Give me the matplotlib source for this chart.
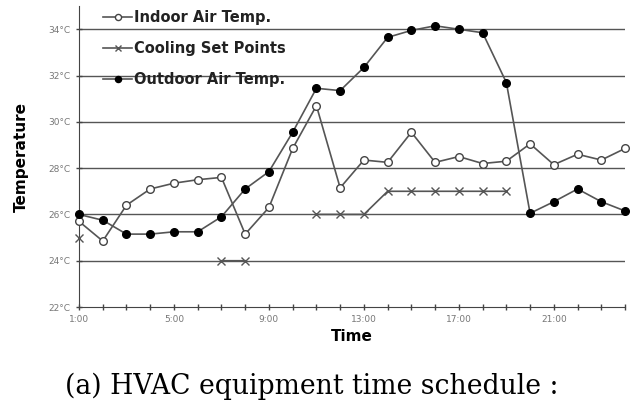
import numpy as np
import matplotlib.pyplot as plt

hours = np.arange(1, 25)

indoor = [25.7, 24.85, 26.4, 27.1, 27.35, 27.5, 27.6, 25.15, 26.3, 28.85, 30.7, 27.15,
          28.35, 28.25, 29.55, 28.25, 28.5, 28.2, 28.3, 29.05, 28.15, 28.6, 28.35, 28.85]
outdoor = [26.0, 25.75, 25.15, 25.15, 25.25, 25.25, 25.9, 27.1, 27.85, 29.55, 31.45, 31.35,
           32.35, 33.65, 33.95, 34.15, 34.0, 33.85, 31.7, 26.05, 26.55, 27.1, 26.55, 26.15]
nan = np.nan
setpoint = [25, nan, nan, nan, nan, nan, 24, 24, nan, nan, 26, 26,
            26, 27, 27, 27, 27, 27, 27, nan, nan, nan, nan, nan]

yticks = [22, 24, 26, 28, 30, 32, 34]
xtick_pos = [1, 5, 9, 13, 17, 21]
xtick_lab = ['1:00', '5:00', '9:00', '13:00', '17:00', '21:00']

fig = plt.figure(figsize=(6.32, 4.08), dpi=100)
ax = fig.add_axes([0.125, 0.2475, 0.864, 0.7375])

for v in yticks[1:]:
    ax.axhline(v, color='#555555', lw=1.0, zorder=1)

lc = '#555555'
ax.plot(hours, indoor, color=lc, lw=1.2, marker='o', ms=5.5, mfc='white', mec='#444444',
        mew=1.0, label='Indoor Air Temp.', clip_on=False, zorder=3)
ax.plot(hours, setpoint, color=lc, lw=1.2, marker='x', ms=5.5, mec='#555555',
        mew=1.0, label='Cooling Set Points', clip_on=False, zorder=3)
ax.plot(hours, outdoor, color=lc, lw=1.2, marker='o', ms=5.5, mfc='black', mec='black',
        label='Outdoor Air Temp.', clip_on=False, zorder=3)

ax.set_xlim(1, 24)
ax.set_ylim(22, 35)
ax.set_yticks(yticks)
ax.set_yticklabels([f'{v}°C' for v in yticks], fontsize=6.5, color='#777777')
ax.set_xticks(xtick_pos)
ax.set_xticklabels(xtick_lab, fontsize=6.5, color='#777777')
ax.set_xticks(hours, minor=True)
ax.tick_params(axis='both', which='both', direction='inout', length=5, color='#444444', width=1)
ax.spines['top'].set_visible(False)
ax.spines['right'].set_visible(False)
ax.spines['left'].set_color('#444444')
ax.spines['bottom'].set_color('#444444')

ax.set_xlabel('Time', fontsize=11, fontweight='bold', labelpad=3)
ax.set_ylabel('Temperature', fontsize=11, fontweight='bold', labelpad=14)

leg = ax.legend(loc='upper left', bbox_to_anchor=(0.02, 1.03), frameon=False,
                prop={'size': 10.5, 'weight': 'bold'}, handlelength=2.0, handletextpad=0.1,
                labelspacing=1.1, markerscale=0.8)
for t in leg.get_texts():
    t.set_color('#222222')

fig.text(0.494, 0.052, '(a) HVAC equipment time schedule :', ha='center', va='center',
         fontsize=19.2, family='DejaVu Serif')

fig.savefig('out.png', dpi=100)
